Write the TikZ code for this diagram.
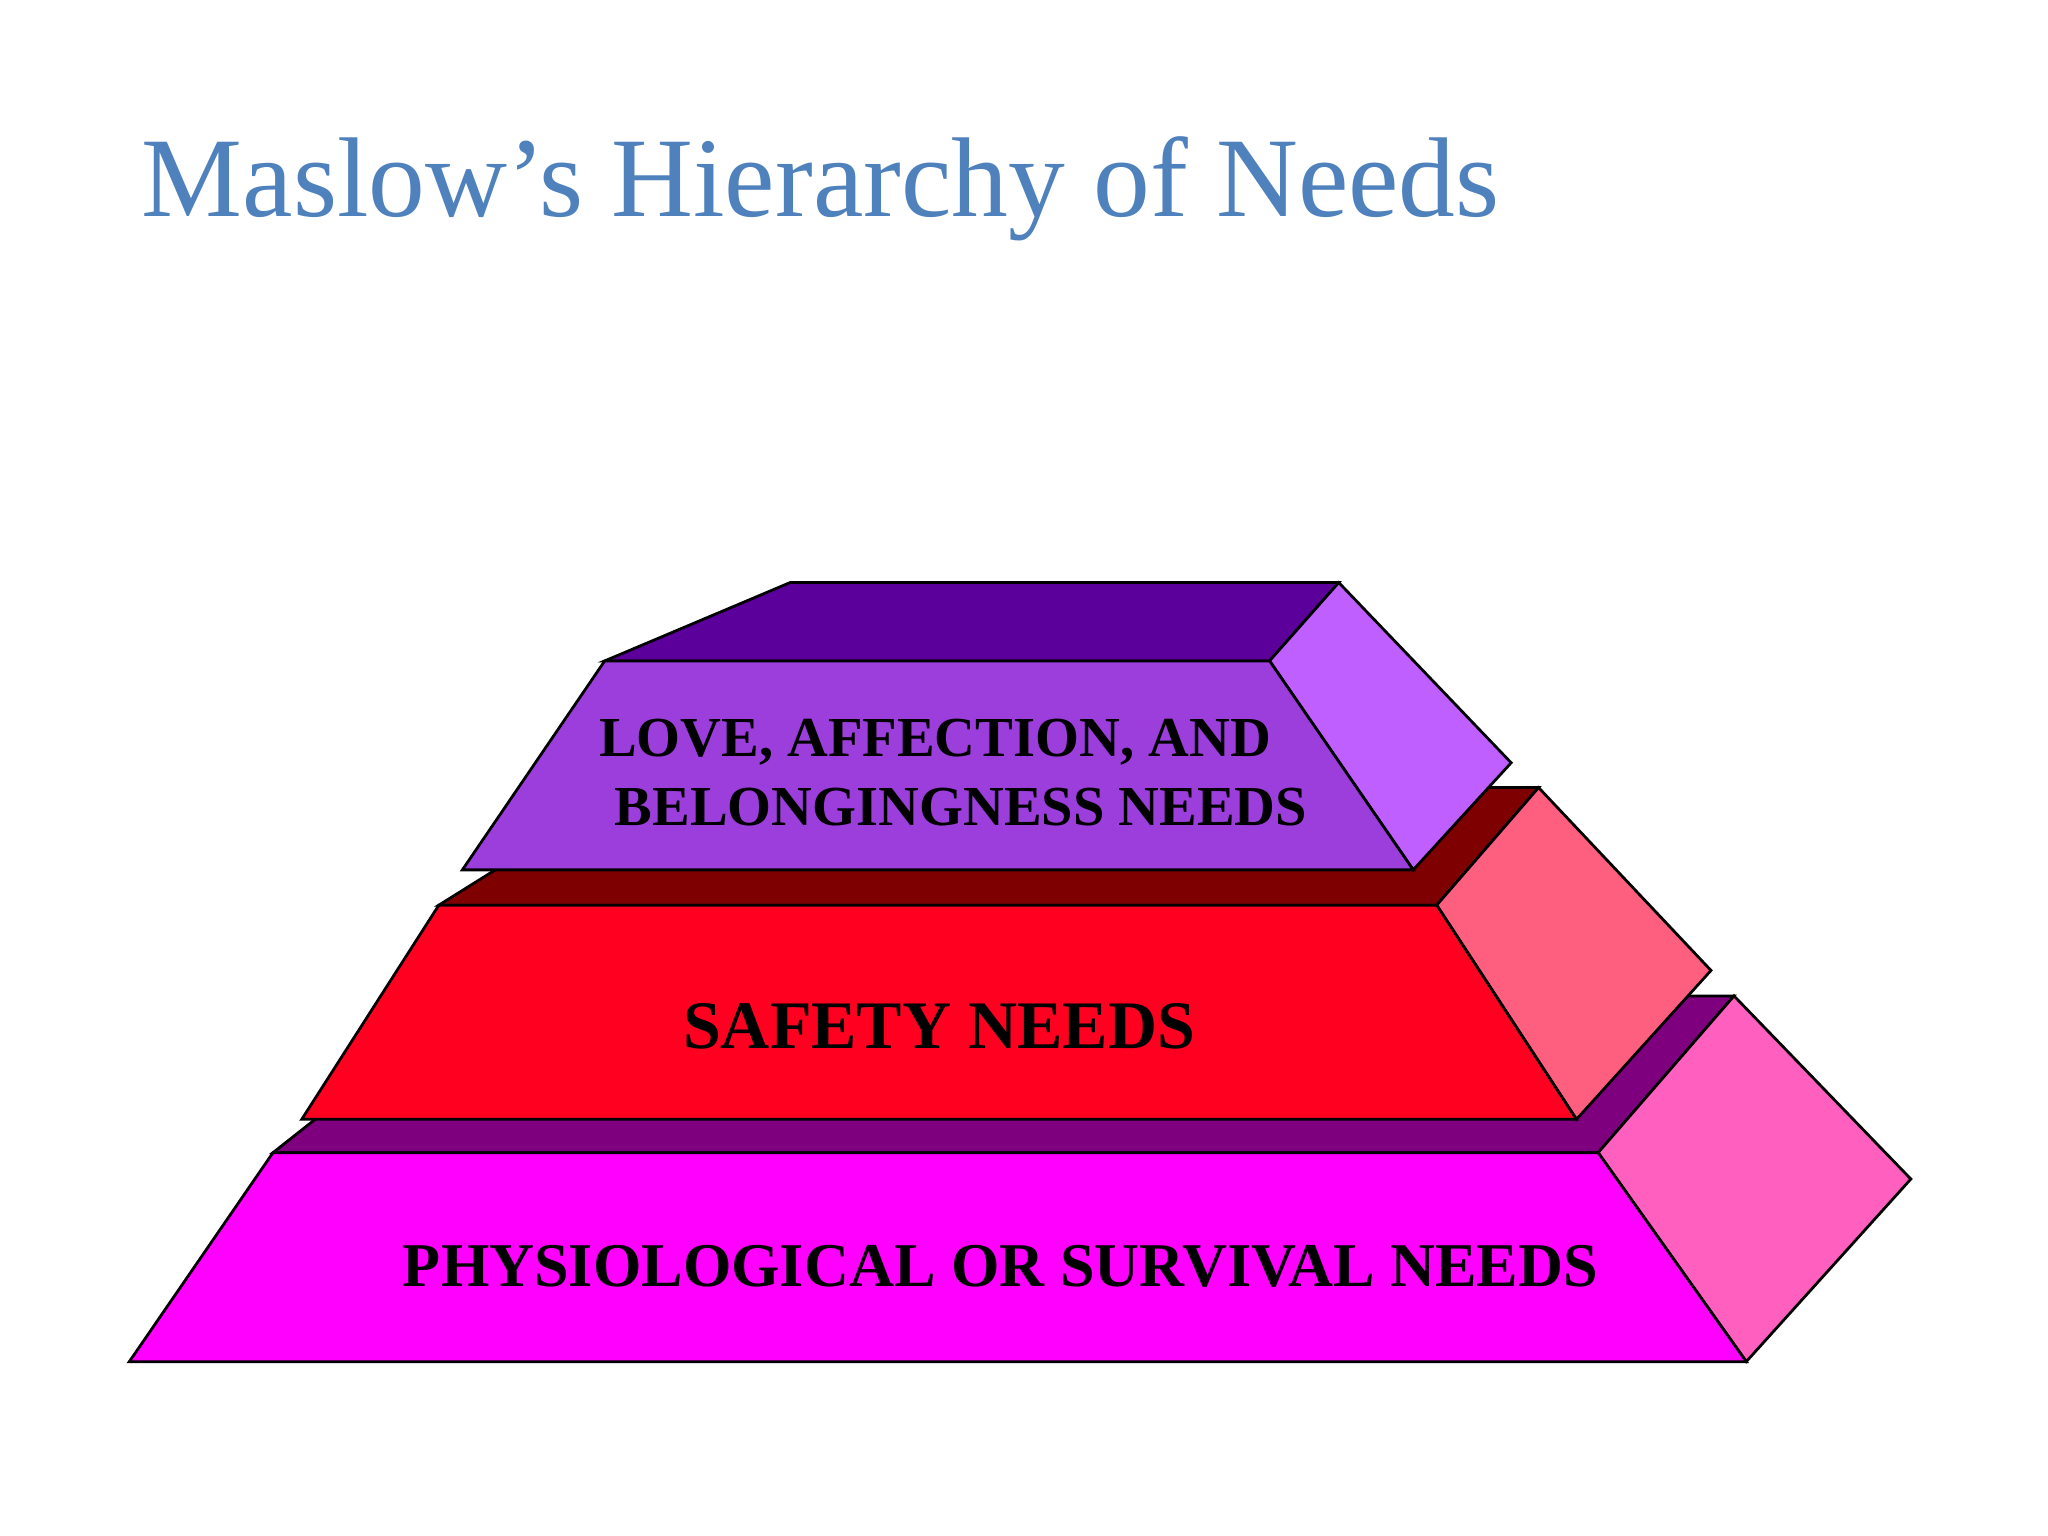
\documentclass[tikz,border=0pt]{standalone}
\usepackage{fontspec}
\setmainfont{Liberation Serif}
\definecolor{titleblue}{RGB}{79,129,189}
\definecolor{loveTop}{RGB}{91,0,155}
\definecolor{loveFront}{RGB}{156,62,220}
\definecolor{loveSide}{RGB}{191,95,255}
\definecolor{safeTop}{RGB}{127,0,0}
\definecolor{safeFront}{RGB}{255,0,33}
\definecolor{safeSide}{RGB}{255,95,127}
\definecolor{bodyTop}{RGB}{127,0,127}
\definecolor{bodyFront}{RGB}{255,0,255}
\definecolor{bodySide}{RGB}{255,95,191}
\tikzset{face/.style={draw=black, line width=0.6pt, line join=miter}}
\begin{document}
\begin{tikzpicture}[x=0.01cm, y=-0.01cm]
  \useasboundingbox (0, 0) rectangle (1568, 1176);
  % title
  \node[anchor=base west, text=titleblue, inner sep=0pt,
    font=\fontsize{24.7}{30}\selectfont] (title) at (108, 166)
    {Maslow’s Hierarchy of Needs};
  % bottom layer
  \draw[face, fill=bodyTop] (209, 882.5) -- (361, 762.5) -- (1327.6, 762.5)
    -- (1223.6, 882.5) -- cycle;
  \draw[face, fill=bodySide] (1223.6, 882.5) -- (1327.6, 762.5) -- (1463, 902.7)
    -- (1337, 1042.5) -- cycle;
  \draw[face, fill=bodyFront] (209, 882.5) -- (1223.6, 882.5) -- (1337, 1042.5)
    -- (99, 1042.5) -- cycle;
  % middle layer
  \draw[face, fill=safeTop] (336, 693) -- (480, 603) -- (1178, 603)
    -- (1100, 693) -- cycle;
  \draw[face, fill=safeSide] (1100, 693) -- (1178, 603) -- (1310, 743)
    -- (1207, 857) -- cycle;
  \draw[face, fill=safeFront] (336, 693) -- (1100, 693) -- (1207, 857)
    -- (231, 857) -- cycle;
  % top layer
  \draw[face, fill=loveTop] (463, 506) -- (605, 446) -- (1025, 446)
    -- (972, 506) -- cycle;
  \draw[face, fill=loveSide] (972, 506) -- (1025, 446) -- (1157, 584)
    -- (1082, 666) -- cycle;
  \draw[face, fill=loveFront] (463, 506) -- (972, 506) -- (1082, 666)
    -- (354, 666) -- cycle;
  % labels
  \node[anchor=base west, inner sep=0pt, font=\bfseries\fontsize{12.3}{15}\selectfont]
    (love) at (458, 579.4) {LOVE, AFFECTION, AND};
  \node[anchor=base west, inner sep=0pt, font=\bfseries\fontsize{12.3}{15}\selectfont]
    (belong) at (470, 631.7) {BELONGINGNESS NEEDS};
  \node[anchor=base, inner sep=0pt, font=\bfseries\fontsize{14.8}{18}\selectfont]
    (safety) at (719, 802.5) {SAFETY NEEDS};
  \node[anchor=base, inner sep=0pt, font=\bfseries\fontsize{13.55}{16}\selectfont]
    (body) at (766, 984.6) {PHYSIOLOGICAL OR SURVIVAL NEEDS};
\end{tikzpicture}
\end{document}
